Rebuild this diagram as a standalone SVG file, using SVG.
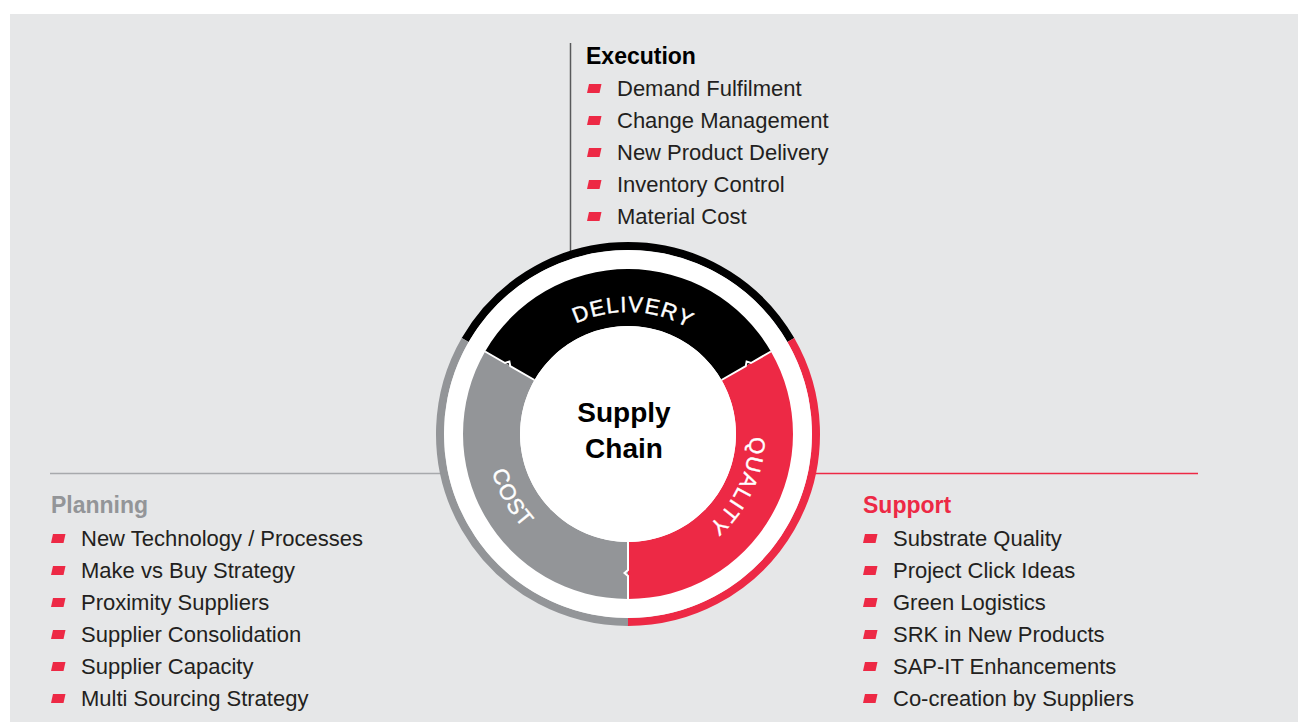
<svg xmlns="http://www.w3.org/2000/svg" xmlns:xlink="http://www.w3.org/1999/xlink" width="1298" height="722" viewBox="0 0 1298 722">
  <style>
    .item { font-family: "Liberation Sans", Arial, sans-serif; font-size: 22px; fill: #231f20; }
    .head { font-family: "Liberation Sans", Arial, sans-serif; font-size: 23px; font-weight: bold; }
    .ring { font-family: "Liberation Sans", Arial, sans-serif; font-size: 22px; fill: #ffffff; stroke: #ffffff; stroke-width: 0.4; letter-spacing: 1.2px; }
    .center { font-family: "Liberation Sans", Arial, sans-serif; font-size: 28px; font-weight: bold; fill: #000000; }
    .div { fill: none; stroke: #ffffff; stroke-width: 2; stroke-linejoin: miter; }
    .bul { fill: #ed2945; }
  </style>
  <defs>
    <path id="b" d="M0,0 L12.5,0 L14.5,-9 L2,-9 Z"/>
    <path id="pDel" d="M522.34,373 A122,122 0 0 1 733.66,373"/>
    <path id="pQua" d="M733.66,373 A122,122 0 0 1 628,556"/>
    <path id="pCost" d="M505.9,363.5 A141,141 0 0 0 628,575"/>
  </defs>

  <rect x="0" y="0" width="1298" height="722" fill="#ffffff"/>
  <rect x="10" y="14" width="1288" height="708" fill="#e6e7e8"/>

  <g id="connectors">
    <line x1="570.5" y1="43" x2="570.5" y2="251" stroke="#58595b" stroke-width="1.5"/>
    <line x1="50" y1="473.5" x2="441" y2="473.5" stroke="#a7a9ac" stroke-width="1.5"/>
    <line x1="815" y1="473.5" x2="1198" y2="473.5" stroke="#ed2945" stroke-width="1.5"/>
  </g>

  <g id="wheel">
    <path d="M465.19,340 A188,188 0 0 1 790.81,340" fill="none" stroke="#000000" stroke-width="8"/>
    <path d="M790.81,340 A188,188 0 0 1 628,622" fill="none" stroke="#ed2945" stroke-width="8"/>
    <path d="M628,622 A188,188 0 0 1 465.19,340" fill="none" stroke="#939598" stroke-width="8"/>
    <circle cx="628" cy="434" r="184" fill="#ffffff"/>
    <g id="delivery">
      <path d="M485.11,351.5 A165,165 0 0 1 770.89,351.5 L721.53,380 A108,108 0 0 0 534.47,380 Z" fill="#000000"/>
      <text class="ring"><textPath xlink:href="#pDel" href="#pDel" startOffset="52%" text-anchor="middle">DELIVERY</textPath></text>
    </g>
    <g id="quality">
      <path d="M770.89,351.5 A165,165 0 0 1 628,599 L628,542 A108,108 0 0 0 721.53,380 Z" fill="#ed2945"/>
      <text class="ring"><textPath xlink:href="#pQua" href="#pQua" startOffset="46%" text-anchor="middle">QUALITY</textPath></text>
    </g>
    <g id="cost">
      <path d="M628,599 A165,165 0 0 1 485.11,351.5 L534.47,380 A108,108 0 0 0 628,542 Z" fill="#939598"/>
      <text class="ring"><textPath xlink:href="#pCost" href="#pCost" startOffset="49%" text-anchor="middle">COST</textPath></text>
    </g>
    <g transform="translate(628,434)">
      <path class="div" transform="rotate(210)" d="M108,0 L136,0 L139,3.5 L142,0 L165,0"/>
      <path class="div" transform="rotate(330)" d="M108,0 L136,0 L139,-3.5 L142,0 L165,0"/>
      <path class="div" transform="rotate(90)" d="M108,0 L136,0 L139,3.5 L142,0 L165,0"/>
    </g>
    <g id="supply-chain">
      <circle cx="628" cy="434" r="108" fill="#ffffff"/>
      <text class="center" x="624" y="422" text-anchor="middle">Supply</text>
      <text class="center" x="624" y="458" text-anchor="middle">Chain</text>
    </g>
  </g>

  <g id="execution">
    <text class="head" x="586" y="64" fill="#000000">Execution</text>
    <use href="#b" xlink:href="#b" class="bul" x="587" y="93"/>
    <use href="#b" xlink:href="#b" class="bul" x="587" y="125"/>
    <use href="#b" xlink:href="#b" class="bul" x="587" y="157"/>
    <use href="#b" xlink:href="#b" class="bul" x="587" y="189"/>
    <use href="#b" xlink:href="#b" class="bul" x="587" y="221"/>
    <text class="item" x="617" y="96">Demand Fulfilment</text>
    <text class="item" x="617" y="128">Change Management</text>
    <text class="item" x="617" y="160">New Product Delivery</text>
    <text class="item" x="617" y="192">Inventory Control</text>
    <text class="item" x="617" y="224">Material Cost</text>
  </g>

  <g id="planning">
    <text class="head" x="51" y="513" fill="#939598">Planning</text>
    <use href="#b" xlink:href="#b" class="bul" x="51" y="543"/>
    <use href="#b" xlink:href="#b" class="bul" x="51" y="575"/>
    <use href="#b" xlink:href="#b" class="bul" x="51" y="607"/>
    <use href="#b" xlink:href="#b" class="bul" x="51" y="639"/>
    <use href="#b" xlink:href="#b" class="bul" x="51" y="671"/>
    <use href="#b" xlink:href="#b" class="bul" x="51" y="703"/>
    <text class="item" x="81" y="546">New Technology / Processes</text>
    <text class="item" x="81" y="578">Make vs Buy Strategy</text>
    <text class="item" x="81" y="610">Proximity Suppliers</text>
    <text class="item" x="81" y="642">Supplier Consolidation</text>
    <text class="item" x="81" y="674">Supplier Capacity</text>
    <text class="item" x="81" y="706">Multi Sourcing Strategy</text>
  </g>

  <g id="support">
    <text class="head" x="863" y="513" fill="#ed2945">Support</text>
    <use href="#b" xlink:href="#b" class="bul" x="863" y="543"/>
    <use href="#b" xlink:href="#b" class="bul" x="863" y="575"/>
    <use href="#b" xlink:href="#b" class="bul" x="863" y="607"/>
    <use href="#b" xlink:href="#b" class="bul" x="863" y="639"/>
    <use href="#b" xlink:href="#b" class="bul" x="863" y="671"/>
    <use href="#b" xlink:href="#b" class="bul" x="863" y="703"/>
    <text class="item" x="893" y="546">Substrate Quality</text>
    <text class="item" x="893" y="578">Project Click Ideas</text>
    <text class="item" x="893" y="610">Green Logistics</text>
    <text class="item" x="893" y="642">SRK in New Products</text>
    <text class="item" x="893" y="674">SAP-IT Enhancements</text>
    <text class="item" x="893" y="706">Co-creation by Suppliers</text>
  </g>
</svg>
